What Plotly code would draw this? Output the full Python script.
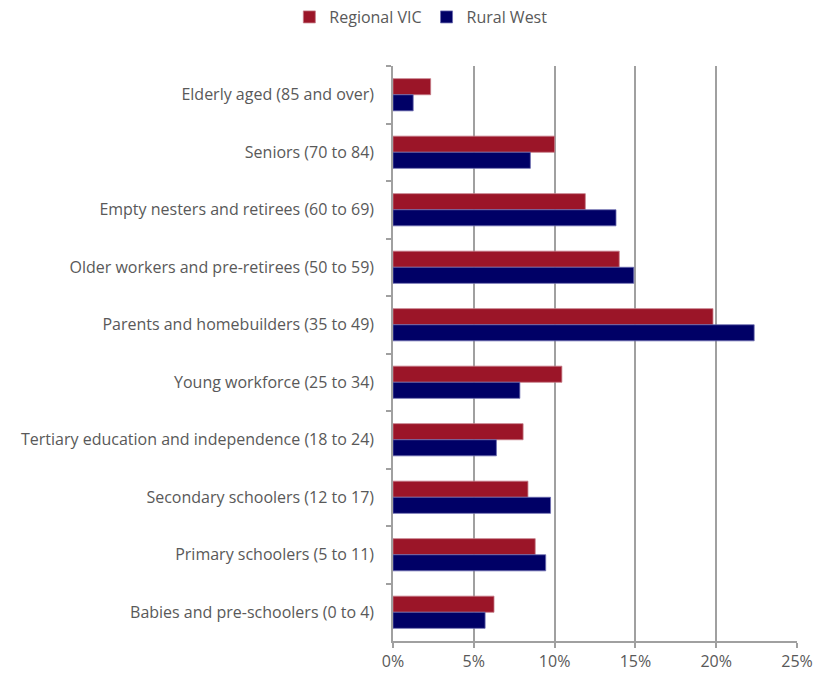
import plotly.graph_objects as go

categories = [
    "Elderly aged (85 and over)",
    "Seniors (70 to 84)",
    "Empty nesters and retirees (60 to 69)",
    "Older workers and pre-retirees (50 to 59)",
    "Parents and homebuilders (35 to 49)",
    "Young workforce (25 to 34)",
    "Tertiary education and independence (18 to 24)",
    "Secondary schoolers (12 to 17)",
    "Primary schoolers (5 to 11)",
    "Babies and pre-schoolers (0 to 4)",
]
regional_vic = [2.33, 10.0, 11.9, 14.0, 19.8, 10.45, 8.05, 8.35, 8.8, 6.25]
rural_west = [1.25, 8.5, 13.8, 14.9, 22.35, 7.85, 6.4, 9.75, 9.45, 5.7]
x_ticks = [0, 5, 10, 15, 20, 25]
x_labels = ["0%", "5%", "10%", "15%", "20%", "25%"]

RED = "#9b1528"
NAVY = "#000066"
GREY_TEXT = "#595959"
GRID = "#a0a0a0"
FONT = "Open Sans, sans-serif"

fig = go.Figure()
fig.add_trace(go.Bar(
    y=categories, x=regional_vic, name="Regional VIC", orientation="h",
    marker=dict(color=RED, line=dict(color="#c47a85", width=0.8)),
))
fig.add_trace(go.Bar(
    y=categories, x=rural_west, name="Rural West", orientation="h",
    marker=dict(color=NAVY, line=dict(color="#6c6cb0", width=0.8)),
))

fig.update_layout(
    width=814, height=674,
    margin=dict(l=393, r=17, t=66, b=33, autoexpand=False),
    barmode="group", bargap=0.44, bargroupgap=0,
    plot_bgcolor="white", paper_bgcolor="white",
    font=dict(family=FONT, size=16, color=GREY_TEXT),
    legend=dict(orientation="h", x=0.517, xref="container", xanchor="center",
                y=1.0, yref="container", yanchor="top",
                font=dict(size=16, color=GREY_TEXT),
                itemwidth=30, traceorder="normal"),
    showlegend=True,
)
fig.update_xaxes(
    range=[0, 25], tickvals=x_ticks, ticktext=x_labels,
    showgrid=True, gridcolor=GRID, gridwidth=1.5,
    showline=True, linecolor=GRID, linewidth=1.5,
    ticks="outside", ticklen=5, tickcolor=GRID, tickwidth=1.5,
    zeroline=False, fixedrange=True, automargin=False,
)
fig.update_yaxes(
    autorange="reversed", showgrid=False,
    showline=True, linecolor=GRID, linewidth=1.5,
    ticks="outside", ticklen=5, tickcolor=GRID, tickwidth=1.5,
    tickson="boundaries", ticklabelstandoff=14, automargin=False,
)

fig.write_html("out.html")
